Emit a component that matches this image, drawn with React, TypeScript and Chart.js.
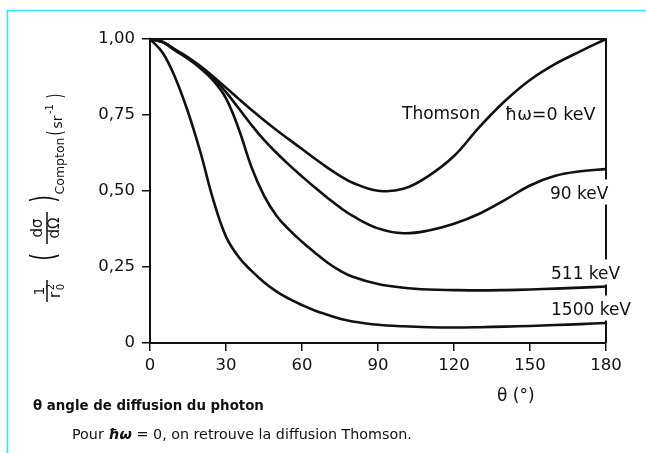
import React, { useEffect, useRef } from "react";
import { Chart, registerables } from "chart.js";

Chart.register(...registerables);

// ---- data ----
const angles = [0, 5, 10, 15, 20, 25, 30, 35, 40, 45, 50, 55, 60, 65, 70, 75, 80, 90, 100, 110, 120, 130, 140, 150, 160, 170, 180];
const thomson = [1.0, 0.99, 0.965, 0.94, 0.91, 0.876, 0.84, 0.803, 0.767, 0.733, 0.7, 0.669, 0.638, 0.607, 0.577, 0.55, 0.527, 0.501, 0.507, 0.55, 0.615, 0.71, 0.795, 0.865, 0.918, 0.96, 1.0];
const kev90 = [1.0, 0.99, 0.963, 0.937, 0.907, 0.872, 0.825, 0.772, 0.718, 0.668, 0.625, 0.585, 0.548, 0.512, 0.478, 0.446, 0.418, 0.377, 0.361, 0.37, 0.392, 0.425, 0.47, 0.518, 0.55, 0.565, 0.572];
const kev511 = [1.0, 0.99, 0.962, 0.935, 0.903, 0.863, 0.805, 0.705, 0.58, 0.485, 0.418, 0.372, 0.333, 0.298, 0.265, 0.238, 0.218, 0.194, 0.182, 0.176, 0.174, 0.173, 0.174, 0.176, 0.179, 0.182, 0.186];
const kev1500 = [1.0, 0.955, 0.872, 0.76, 0.625, 0.47, 0.35, 0.283, 0.238, 0.2, 0.169, 0.145, 0.125, 0.107, 0.093, 0.08, 0.071, 0.06, 0.055, 0.052, 0.051, 0.052, 0.054, 0.056, 0.059, 0.062, 0.066];

const seriesNames = ["Thomson ħω=0 keV", "90 keV", "511 keV", "1500 keV"];
const xTickValues = [0, 30, 60, 90, 120, 150, 180];
const yTickValues = [0, 0.25, 0.5, 0.75, 1];
const yTickLabels = ["0", "0,25", "0,50", "0,75", "1,00"];

// ---- layout / style ----
const W = 646;
const H = 453;
const FONT = "'DejaVu Sans', sans-serif";
const INK = "#111111";
const CYAN = "#1ef0f4";

const LABELS = [
  { text: "Thomson", x: 402, y: 115, bg: false, size: 17 },
  { text: "ħω=0 keV", x: 505, y: 115, bg: false, size: 17.5 },
  { text: "90 keV", x: 550, y: 194.5, bg: true, size: 17 },
  { text: "511 keV", x: 551, y: 274.5, bg: true, size: 17 },
  { text: "1500 keV", x: 551, y: 310.5, bg: true, size: 17 },
];

function rt(ctx: CanvasRenderingContext2D, text: string, x: number, y: number, font: string, sx = 1) {
  ctx.save();
  ctx.translate(x, y);
  ctx.rotate(-Math.PI / 2);
  ctx.scale(sx, 1);
  ctx.font = font;
  ctx.textAlign = "center";
  ctx.textBaseline = "middle";
  ctx.fillText(text, 0, 0);
  ctx.restore();
}

function fitFont(ctx: CanvasRenderingContext2D, text: string, weight: string, base: number, target: number) {
  ctx.font = `${weight} ${base}px ${FONT}`;
  const w = ctx.measureText(text).width;
  return (base * target) / w;
}

const decor = {
  id: "decor",
  beforeDraw(chart: any) {
    const { ctx } = chart;
    ctx.save();
    ctx.fillStyle = "#ffffff";
    ctx.fillRect(0, 0, W, H);
    ctx.strokeStyle = CYAN;
    ctx.lineWidth = 1.5;
    ctx.beginPath();
    ctx.moveTo(7.5, H);
    ctx.lineTo(7.5, 10.5);
    ctx.lineTo(W, 10.5);
    ctx.stroke();
    ctx.restore();
  },
  beforeDatasetsDraw(chart: any) {
    const { ctx, chartArea: a } = chart;
    ctx.save();
    ctx.strokeStyle = INK;
    ctx.lineWidth = 2;
    ctx.beginPath();
    ctx.moveTo(a.left - 1, a.top);
    ctx.lineTo(a.right, a.top);
    ctx.lineTo(a.right, a.bottom);
    ctx.stroke();
    ctx.textBaseline = "middle";
    ctx.textAlign = "left";
    for (const l of LABELS) {
      ctx.font = `${l.size}px ${FONT}`;
      const w = ctx.measureText(l.text).width;
      if (l.bg) {
        ctx.fillStyle = "#ffffff";
        const right = Math.max(l.x + w + 2, a.right + 3);
        ctx.fillRect(l.x - 2, l.y - 15, right - (l.x - 2), 25);
      }
      ctx.fillStyle = INK;
      ctx.fillText(l.text, l.x, l.y);
    }
    ctx.restore();
  },
  afterDraw(chart: any) {
    const { ctx } = chart;
    ctx.save();
    ctx.fillStyle = INK;
    ctx.strokeStyle = INK;
    // y-axis title (rotated)
    rt(ctx, "1", 40, 291, `14px ${FONT}`);
    rt(ctx, "r", 56, 295, `15px ${FONT}`);
    rt(ctx, "2", 51, 287, `10px ${FONT}`);
    rt(ctx, "0", 61, 287, `10px ${FONT}`);
    rt(ctx, "(", 46, 257, `33px ${FONT}`, 0.6);
    rt(ctx, "dσ", 38, 228, `15px ${FONT}`);
    rt(ctx, "dΩ", 55, 228, `15px ${FONT}`);
    rt(ctx, ")", 46, 199, `33px ${FONT}`, 0.6);
    rt(ctx, "Compton", 61, 166, `12.5px ${FONT}`);
    rt(ctx, "(", 57, 133, `21px ${FONT}`, 0.6);
    rt(ctx, "sr", 58, 122, `14px ${FONT}`);
    rt(ctx, "-1", 50, 109, `10px ${FONT}`);
    rt(ctx, ")", 57, 96, `21px ${FONT}`, 0.6);
    ctx.lineWidth = 1.5;
    ctx.beginPath();
    ctx.moveTo(47, 280);
    ctx.lineTo(47, 302);
    ctx.moveTo(47, 212);
    ctx.lineTo(47, 244);
    ctx.stroke();

    // x-axis title
    ctx.textBaseline = "middle";
    ctx.textAlign = "left";
    ctx.font = `17px ${FONT}`;
    ctx.fillText("θ (°)", 497, 397);

    // captions
    const c1 = "θ angle de diffusion du photon";
    const s1 = fitFont(ctx, c1, "bold", 13, 231);
    ctx.font = `bold ${s1}px ${FONT}`;
    ctx.fillText(c1, 33, 407);

    const p1 = "Pour ";
    const p2 = "ħω";
    const p3 = " = 0, on retrouve la diffusion Thomson.";
    ctx.font = `13px ${FONT}`;
    const wAll = ctx.measureText(p1 + p3).width;
    ctx.font = `bold italic 13px ${FONT}`;
    const wB = ctx.measureText(p2).width;
    const s2 = (13 * 340) / (wAll + wB);
    let x = 72;
    ctx.font = `${s2}px ${FONT}`;
    ctx.fillText(p1, x, 435);
    x += ctx.measureText(p1).width;
    ctx.font = `bold italic ${s2}px ${FONT}`;
    ctx.fillText(p2, x, 435);
    x += ctx.measureText(p2).width;
    ctx.font = `${s2}px ${FONT}`;
    ctx.fillText(p3, x, 435);
    ctx.restore();
  },
};

export default function App() {
  const ref = useRef<HTMLCanvasElement>(null);
  useEffect(() => {
    const canvas = ref.current!;
    const series = [thomson, kev90, kev511, kev1500];
    const chart = new Chart(canvas, {
      type: "line",
      data: {
        datasets: series.map((vals, i) => ({
          label: seriesNames[i],
          data: angles.map((a, j) => ({ x: a, y: vals[j] })),
          borderColor: INK,
          borderWidth: 2.6,
          pointRadius: 0,
          fill: false,
          tension: 0.4,
          clip: false as any,
        })),
      },
      options: {
        responsive: false,
        animation: false,
        devicePixelRatio: 1,
        layout: { padding: { top: 39, right: 40, left: 0, bottom: 0 } },
        plugins: { legend: { display: false }, tooltip: { enabled: false } },
        scales: {
          x: {
            type: "linear",
            min: 0,
            max: 180,
            afterFit: (s: any) => {
              s.height = 110;
            },
            afterBuildTicks: (s: any) => {
              s.ticks = xTickValues.map((v) => ({ value: v }));
            },
            ticks: {
              font: { family: FONT, size: 16.5 },
              color: INK,
              padding: 5,
              maxRotation: 0,
              autoSkip: false,
              callback: (v: any) => String(v),
            },
            grid: { drawOnChartArea: false, drawTicks: true, tickLength: 8, color: INK, lineWidth: 1.5 },
            border: { display: true, color: INK, width: 2 },
          },
          y: {
            type: "linear",
            min: 0,
            max: 1,
            afterFit: (s: any) => {
              s.width = 150;
            },
            afterBuildTicks: (s: any) => {
              s.ticks = yTickValues.map((v) => ({ value: v }));
            },
            ticks: {
              font: { family: FONT, size: 16.5 },
              color: INK,
              padding: 7,
              autoSkip: false,
              callback: (v: any) => {
                const i = yTickValues.indexOf(Number(v));
                return i >= 0 ? yTickLabels[i] : "";
              },
            },
            grid: { drawOnChartArea: false, drawTicks: true, tickLength: 8, color: INK, lineWidth: 1.5 },
            border: { display: true, color: INK, width: 2 },
          },
        },
      },
      plugins: [decor],
    } as any);
    return () => chart.destroy();
  }, []);
  return (
    <div style={{ position: "fixed", left: 0, top: 0, width: W, height: H, background: "#fff" }}>
      <canvas ref={ref} width={W} height={H} style={{ display: "block", width: W, height: H }} />
    </div>
  );
}
